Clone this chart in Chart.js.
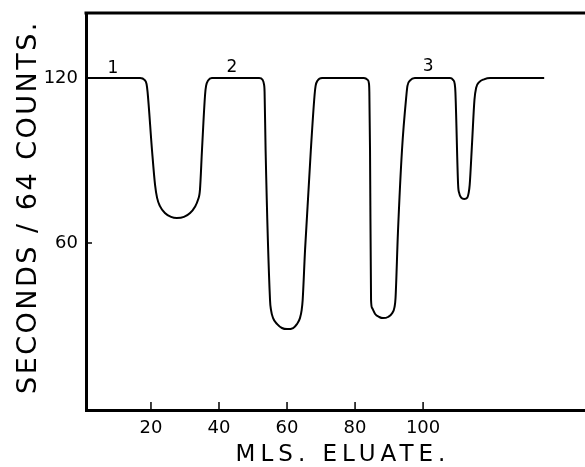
<!DOCTYPE html>
<html>
<head>
<meta charset="utf-8">
<script src="https://cdn.jsdelivr.net/npm/chart.js@4/dist/chart.umd.min.js"></script>
<style>
	body { margin: 0; background: #fff; }
	#wrap { width: 585px; height: 467px; }
</style>
</head>
<body>
<div id="wrap"><canvas id="chart"></canvas></div>
<script>
// mls of eluate collected
const elution = [1, 16.8, 18.1, 18.7, 19, 20.3, 21.2, 21.8, 22.6, 24.1, 25.9, 27.6, 29.7, 31.5, 32.9, 33.8, 34.4, 35, 35.9, 36.2, 36.8, 37.9,
	51.8, 52.8, 53.2, 53.4, 53.7, 55, 55.3, 55.9, 57.1, 58.5, 60, 61.8, 62.9, 63.8, 64.3, 64.6, 65.3, 67, 68.1, 68.4, 69, 70.3,
	82.6, 83.7, 84.1, 84.2, 84.4, 84.7, 85, 85.9, 87.1, 88.2, 89.7, 90.9, 91.6, 91.9, 92.6, 93.8, 95.1, 95.4, 96.2, 97.6,
	107.9, 108.8, 109.3, 109.5, 110.3, 110.6, 111.2, 112.1, 113, 113.4, 113.7, 114.4, 115.1, 115.6, 116.5, 117.9, 119.7, 135.6];
// seconds per 64 counts
const seconds = [120, 120, 119.3, 117.8, 114.9, 93.8, 81.1, 76.4, 73.5, 70.9, 69.5, 69.1, 69.5, 70.9, 73.1, 75.6, 79.3, 93.8, 113.8, 117.1, 119.1, 120,
	120, 119.3, 117.8, 114.9, 93.8, 39.3, 35.6, 32.7, 30.5, 29.1, 28.7, 29.1, 30.5, 32.7, 35.6, 39.3, 57.5, 93.8, 113.8, 117.1, 119.1, 120,
	120, 119.3, 117.8, 114.9, 93.8, 39.3, 36.4, 34.2, 33.1, 32.7, 33.1, 34.5, 36.7, 40, 63.6, 93.8, 113.8, 117.1, 119.1, 120,
	120, 119.3, 117.8, 114.9, 81.1, 78.2, 76.5, 76, 76.5, 78.2, 81.1, 96.4, 112, 116.4, 118.5, 119.5, 120, 120];

const xTicks = [20, 40, 60, 80, 100];
const yTicks = [60, 120];

const peakNames = ['1', '2', '3'];
const peakX = [8.8, 43.8, 101.5];
const peakY = [123.3, 123.8, 124.1];

const xTitle = 'MLS. ELUATE.';
const yTitle = 'SECONDS / 64 COUNTS.';

const decorations = {
	id: 'decorations',
	afterDraw(chart) {
		const { ctx, chartArea, scales } = chart;
		ctx.save();
		ctx.strokeStyle = '#000';
		ctx.fillStyle = '#000';

		// top of the frame
		ctx.lineWidth = 3;
		ctx.beginPath();
		ctx.moveTo(chartArea.left - 1.5, chartArea.top);
		ctx.lineTo(chartArea.right, chartArea.top);
		ctx.stroke();

		// short ticks pointing into the plot
		ctx.lineWidth = 1.5;
		ctx.beginPath();
		xTicks.forEach(v => {
			const px = scales.x.getPixelForValue(v);
			ctx.moveTo(px, chartArea.bottom);
			ctx.lineTo(px, chartArea.bottom - 8);
		});
		yTicks.forEach(v => {
			const py = scales.y.getPixelForValue(v);
			ctx.moveTo(chartArea.left, py);
			ctx.lineTo(chartArea.left + 6, py);
		});
		ctx.stroke();

		// peak numbers
		ctx.font = '17px "DejaVu Sans"';
		ctx.textAlign = 'center';
		ctx.textBaseline = 'middle';
		peakNames.forEach((name, i) => {
			ctx.fillText(name, scales.x.getPixelForValue(peakX[i]), scales.y.getPixelForValue(peakY[i]));
		});

		// axis titles, widely spaced like the original lettering
		ctx.font = '23px "DejaVu Sans"';
		ctx.letterSpacing = '5px';
		ctx.fillText(xTitle, 343, 455);

		ctx.translate(29, 207);
		ctx.rotate(-Math.PI / 2);
		ctx.font = '27px "DejaVu Sans"';
		ctx.letterSpacing = '2.5px';
		ctx.fillText(yTitle, 0, 0);
		ctx.restore();
	}
};

new Chart(document.getElementById('chart').getContext('2d'), {
	type: 'line',
	data: {
		datasets: [
			{
				label: 'Eluate',
				data: elution.map((x, i) => ({ x: x, y: seconds[i] })),
				borderColor: '#000',
				borderWidth: 2,
				pointRadius: 0,
				fill: false,
				cubicInterpolationMode: 'monotone',
			}
		]
	},
	options: {
		responsive: true,
		maintainAspectRatio: false,
		animation: false,
		layout: { padding: { top: 13, right: 0, left: 0, bottom: 0 } },
		plugins: {
			legend: { display: false },
			tooltip: { enabled: false },
		},
		scales: {
			x: {
				type: 'linear',
				min: 0.9,
				max: 147.6,
				afterBuildTicks: scale => { scale.ticks = xTicks.map(v => ({ value: v })); },
				afterFit: scale => { scale.height = 57; scale.paddingLeft = 0; scale.paddingRight = 0; },
				grid: { display: false, drawTicks: false },
				border: { display: true, color: '#000', width: 3 },
				ticks: {
					color: '#000',
					padding: 8,
					maxRotation: 0,
					font: { family: 'DejaVu Sans', size: 18 },
				},
			},
			y: {
				type: 'linear',
				min: -0.7,
				max: 143.6,
				afterBuildTicks: scale => { scale.ticks = yTicks.map(v => ({ value: v })); },
				afterFit: scale => { scale.width = 86; scale.paddingTop = 0; scale.paddingBottom = 0; },
				grid: { display: false, drawTicks: false },
				border: { display: true, color: '#000', width: 3 },
				ticks: {
					color: '#000',
					padding: 8,
					font: { family: 'DejaVu Sans', size: 18 },
				},
			}
		}
	},
	plugins: [decorations]
});
</script>
</body>
</html>
